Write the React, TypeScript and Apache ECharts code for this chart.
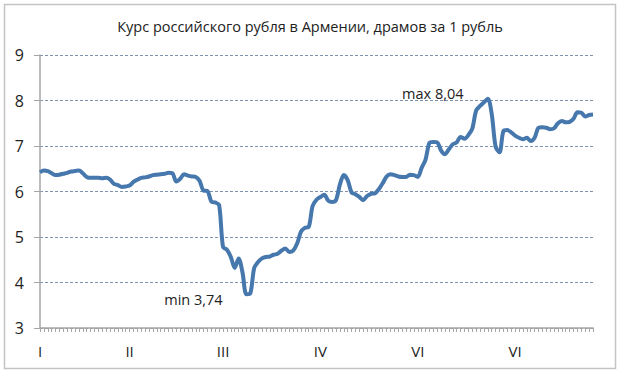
import React, { useEffect, useRef } from "react";
import * as echarts from "echarts";

const titleText = "Курс российского рубля в Армении, драмов за 1 рубль";

const rubleRate: number[] = [
  6.42, 6.46, 6.45, 6.40, 6.36, 6.37, 6.39, 6.41, 6.44, 6.45,
  6.46, 6.40, 6.32, 6.30, 6.30, 6.30, 6.29, 6.30, 6.26, 6.17,
  6.14, 6.10, 6.11, 6.13, 6.21, 6.26, 6.30, 6.31, 6.33, 6.36,
  6.37, 6.38, 6.39, 6.41, 6.40, 6.22, 6.28, 6.38, 6.35, 6.33,
  6.32, 6.23, 6.02, 6.01, 5.78, 5.76, 5.70, 4.78, 4.72, 4.56,
  4.32, 4.53, 4.22, 3.74, 3.76, 4.32, 4.45, 4.53, 4.56, 4.57,
  4.61, 4.63, 4.70, 4.75, 4.67, 4.70, 4.85, 5.11, 5.20, 5.22,
  5.68, 5.82, 5.88, 5.93, 5.80, 5.77, 5.81, 6.15, 6.36, 6.25,
  5.98, 5.94, 5.88, 5.81, 5.90, 5.95, 5.96, 6.05, 6.18, 6.33,
  6.38, 6.36, 6.33, 6.32, 6.32, 6.37, 6.36, 6.32, 6.52, 6.70,
  7.07, 7.09, 7.08, 6.90, 6.82, 6.93, 7.04, 7.08, 7.20, 7.16,
  7.24, 7.38, 7.78, 7.88, 7.96, 8.04, 7.70, 6.98, 6.86, 7.33,
  7.35, 7.30, 7.23, 7.18, 7.15, 7.18, 7.11, 7.18, 7.40, 7.41,
  7.40, 7.37, 7.39, 7.50, 7.55, 7.52, 7.53, 7.60, 7.74, 7.73,
  7.65, 7.68, 7.69,
];

const dayIndex: string[] = rubleRate.map((_, i) => String(i));
const monthLabels: string[] = ["I", "II", "III", "IV", "VI", "VI"];
const monthStart: number[] = [0, 23, 47, 72, 97, 122];
const yTicks: number[] = [3, 4, 5, 6, 7, 8, 9];

const FONT = "'Open Sans', 'Noto Sans', sans-serif";

export default function App() {
  const ref = useRef<HTMLDivElement>(null);
  useEffect(() => {
    if (!ref.current) return;
    const chart = echarts.init(ref.current, undefined, { renderer: "svg" });
    const fmt = (v: number) => String(v.toFixed(2)).replace(".", ",");
    chart.setOption({
      animation: false,
      backgroundColor: "#ffffff",
      textStyle: { fontFamily: FONT },
      title: {
        text: titleText,
        left: "center",
        top: 14,
        textStyle: { fontFamily: FONT, fontSize: 14.5, fontWeight: "normal", color: "#222" },
      },
      graphic: [
        {
          type: "rect",
          shape: { x: 4.5, y: 4.5, width: 611, height: 364 },
          style: { fill: "none", stroke: "#c4c4c4", lineWidth: 1.5 },
          silent: true,
        },
      ],
      grid: { left: 40, right: 27, top: 55, bottom: 57, containLabel: false },
      xAxis: {
        type: "category",
        data: dayIndex,
        boundaryGap: false,
        axisLine: { show: true, lineStyle: { color: "#a6a6a6", width: 1.5 } },
        axisTick: { show: true, interval: 0, length: 4, lineStyle: { color: "#a6a6a6" } },
        axisLabel: {
          interval: (index: number) => monthStart.indexOf(index) >= 0,
          formatter: (_v: string, index: number) => {
            const k = monthStart.indexOf(index);
            return k >= 0 ? monthLabels[k] : "";
          },
          margin: 15,
          fontSize: 15,
          color: "#222",
          fontFamily: FONT,
        },
        splitLine: { show: false },
      },
      yAxis: {
        type: "value",
        min: yTicks[0],
        max: yTicks[yTicks.length - 1],
        interval: 1,
        axisLine: { show: true, lineStyle: { color: "#a6a6a6", width: 1.5 } },
        axisTick: { show: true, length: 6, lineStyle: { color: "#a6a6a6" } },
        axisLabel: { fontSize: 16, color: "#222", margin: 16, fontFamily: FONT },
        splitLine: {
          show: true,
          lineStyle: { color: "#7f92ad", type: [3, 2], width: 1 },
        },
      },
      series: [
        {
          type: "line",
          data: rubleRate,
          showSymbol: false,
          smooth: 0.3,
          lineStyle: { color: "#4677ad", width: 4 },
          itemStyle: { color: "#4677ad" },
          markPoint: {
            symbol: "circle",
            symbolSize: 1,
            itemStyle: { color: "rgba(0,0,0,0)" },
            label: {
              show: true,
              position: "inside",
              fontSize: 14.5,
              color: "#222",
              fontFamily: FONT,
            },
            data: [
              {
                type: "max",
                label: {
                  formatter: (p: any) => "max " + fmt(p.value),
                  offset: [-55, -5],
                },
              },
              {
                type: "min",
                label: {
                  formatter: (p: any) => "min " + fmt(p.value),
                  offset: [-53, 5],
                },
              },
            ],
          },
        },
      ],
    });
    return () => chart.dispose();
  }, []);
  return (
    <div
      ref={ref}
      style={{ position: "fixed", left: 0, top: 0, width: 620, height: 385, background: "#fff" }}
    />
  );
}
